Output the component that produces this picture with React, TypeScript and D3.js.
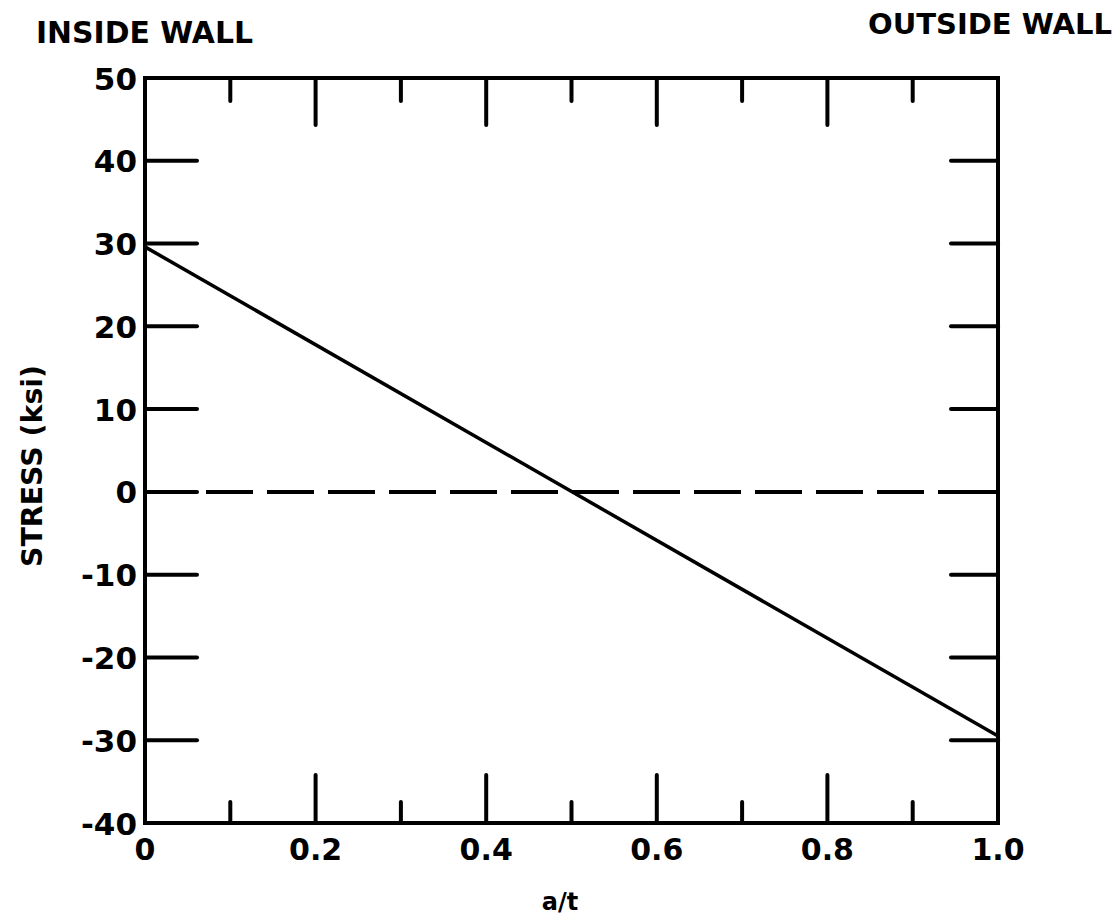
import * as d3 from 'd3';
import { useEffect, useRef } from 'react';

// data
const xTickValues = [0, 0.2, 0.4, 0.6, 0.8, 1.0];
const xTickLabels = ['0', '0.2', '0.4', '0.6', '0.8', '1.0'];
const xMinorValues = [0.1, 0.3, 0.5, 0.7, 0.9];
const yTickValues = [50, 40, 30, 20, 10, 0, -10, -20, -30, -40];
const yTickLabels = ['50', '40', '30', '20', '10', '0', '-10', '-20', '-30', '-40'];
const crackDepth = [0, 1.0];
const stress = [29.6, -29.5];
const zeroLine = [0, 0];

const App = () => {
    const ref = useRef<SVGSVGElement>(null);

    useEffect(() => {
        drawChart();
    }, []);

    const drawChart = () => {
        const width = 1119;
        const height = 918;
        const font = '"DejaVu Sans", sans-serif';

        const svg = d3.select(ref.current);
        svg.selectAll('*').remove();

        // plot frame in pixels
        const x = d3.scaleLinear().domain([0, 1]).range([145, 998]);
        const y = d3.scaleLinear().domain([-40, 50]).range([823, 78]);

        const g = svg.append('g');

        // titles above the frame
        g.append('text')
            .attr('x', 36).attr('y', 43)
            .attr('font-family', font).attr('font-weight', 'bold')
            .attr('font-size', 31)
            .attr('textLength', 217).attr('lengthAdjust', 'spacingAndGlyphs')
            .text('INSIDE WALL');
        g.append('text')
            .attr('x', 868).attr('y', 34)
            .attr('font-family', font).attr('font-weight', 'bold')
            .attr('font-size', 28)
            .attr('textLength', 244).attr('lengthAdjust', 'spacingAndGlyphs')
            .text('OUTSIDE WALL');

        // inner y ticks, left and right side
        const innerY = yTickValues.filter(v => v !== 50 && v !== -40);
        g.selectAll('.ytl').data(innerY).enter().append('line')
            .attr('x1', x(0)).attr('x2', x(0) + 52)
            .attr('y1', d => y(d)).attr('y2', d => y(d))
            .attr('stroke', '#000').attr('stroke-width', 4).attr('stroke-linecap', 'round');
        g.selectAll('.ytr').data(innerY).enter().append('line')
            .attr('x1', x(1)).attr('x2', x(1) - 47)
            .attr('y1', d => y(d)).attr('y2', d => y(d))
            .attr('stroke', '#000').attr('stroke-width', 4).attr('stroke-linecap', 'round');

        // x ticks top and bottom, major and minor
        const innerX = xTickValues.filter(v => v !== 0 && v !== 1);
        const addXTicks = (vals: number[], yEdge: number, len: number) => {
            g.selectAll(null).data(vals).enter().append('line')
                .attr('x1', d => x(d)).attr('x2', d => x(d))
                .attr('y1', yEdge).attr('y2', yEdge + len)
                .attr('stroke', '#000').attr('stroke-width', 4).attr('stroke-linecap', 'round');
        };
        addXTicks(innerX, y(50), 47);
        addXTicks(xMinorValues, y(50), 23);
        addXTicks(innerX, y(-40), -48);
        addXTicks(xMinorValues, y(-40), -21);

        // frame
        g.append('rect')
            .attr('x', x(0)).attr('y', y(50))
            .attr('width', x(1) - x(0)).attr('height', y(-40) - y(50))
            .attr('fill', 'none').attr('stroke', '#000').attr('stroke-width', 4);

        // tick labels
        g.selectAll('.ylab').data(yTickValues).enter().append('text')
            .attr('x', 137).attr('y', d => y(d) + 11.5)
            .attr('text-anchor', 'end')
            .attr('font-family', font).attr('font-weight', 'bold').attr('font-size', 31)
            .text((d, i) => yTickLabels[i]);
        g.selectAll('.xlab').data(xTickValues).enter().append('text')
            .attr('x', d => x(d)).attr('y', 860)
            .attr('text-anchor', 'middle')
            .attr('font-family', font).attr('font-weight', 'bold').attr('font-size', 30)
            .text((d, i) => xTickLabels[i]);

        // axis titles
        g.append('text')
            .attr('transform', 'translate(42,466) rotate(-90)')
            .attr('text-anchor', 'middle')
            .attr('font-family', font).attr('font-weight', 'bold').attr('font-size', 29)
            .attr('textLength', 202).attr('lengthAdjust', 'spacingAndGlyphs')
            .text('STRESS (ksi)');
        g.append('text')
            .attr('x', 560).attr('y', 910)
            .attr('text-anchor', 'middle')
            .attr('font-family', font).attr('font-weight', 'bold').attr('font-size', 24)
            .text('a/t');

        const line = d3.line<number>()
            .x((d, i) => x(crackDepth[i]))
            .y(d => d);

        // dashed zero line
        g.append('path')
            .attr('d', line(zeroLine.map(v => y(v))))
            .attr('fill', 'none').attr('stroke', '#000').attr('stroke-width', 4)
            .attr('stroke-dasharray', '47 14');

        // stress distribution
        g.append('path')
            .attr('d', line(stress.map(v => y(v))))
            .attr('fill', 'none').attr('stroke', '#000').attr('stroke-width', 3.5);
    };

    return (
        <svg ref={ref} width={1119} height={918}
            style={{ position: 'absolute', left: 0, top: 0, background: 'white' }} />
    );
};

export default App;
